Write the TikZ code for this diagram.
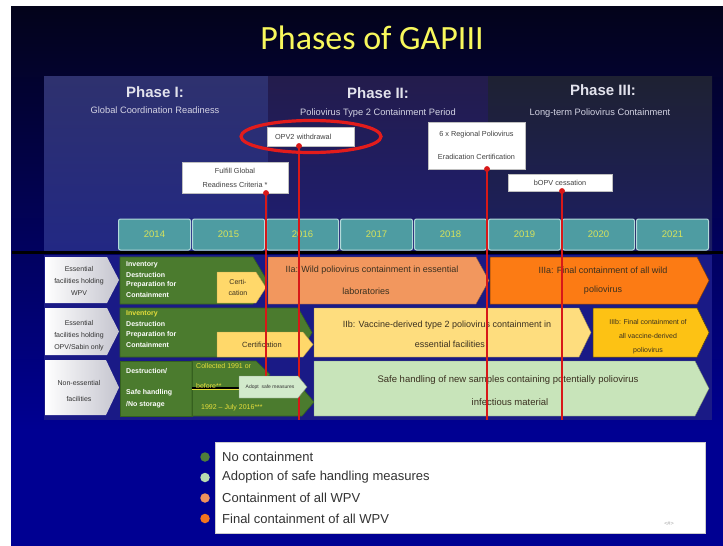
\documentclass[tikz,border=0pt]{standalone}
\usepackage{fontspec}
\setmainfont{Liberation Sans}
\newfontfamily\titlefont{Carlito}
\usetikzlibrary{calc}
\definecolor{bgtop}{HTML}{03031A}
\definecolor{bgmid}{HTML}{060652}
\definecolor{bgbot}{HTML}{000092}
\definecolor{ponetop}{HTML}{2E316E}
\definecolor{ponebot}{HTML}{222884}
\definecolor{ptwotop}{HTML}{231C4C}
\definecolor{ptwobot}{HTML}{1E1E74}
\definecolor{pthreetop}{HTML}{1E2132}
\definecolor{pthreebot}{HTML}{1C1E64}
\definecolor{phtext}{HTML}{E2E2EC}
\definecolor{pstext}{HTML}{D4D4E4}
\definecolor{yearfill}{HTML}{4E9CA2}
\definecolor{yearedge}{HTML}{B4DADA}
\definecolor{yeartext}{HTML}{D8E35A}
\definecolor{rowbg}{HTML}{1A1A86}
\definecolor{lblgray}{HTML}{C4C4CE}
\definecolor{grnfill}{HTML}{4B7B2E}
\definecolor{grnedge}{HTML}{35601F}
\definecolor{yelfill}{HTML}{FFD86A}
\definecolor{orlfill}{HTML}{F2975E}
\definecolor{ordfill}{HTML}{FC7B14}
\definecolor{yllfill}{HTML}{FEDD7E}
\definecolor{goldfill}{HTML}{FDC214}
\definecolor{lgrnfill}{HTML}{C8E4BA}
\definecolor{adoptfill}{HTML}{D2EACC}
\definecolor{dotred}{HTML}{D81818}
\definecolor{ellred}{HTML}{E21C1C}
\definecolor{txtdark}{HTML}{3A3020}
\definecolor{gtxtyel}{HTML}{E6DE3C}
\definecolor{bullone}{HTML}{4F7D3A}
\definecolor{bulltwo}{HTML}{B8DBB0}
\definecolor{bullthree}{HTML}{F0915C}
\definecolor{bullfour}{HTML}{F2741E}
\definecolor{titleyel}{HTML}{F8F85C}
\newcommand\fs[2]{\fontsize{#1}{#2}\selectfont}
\newcommand\pent[6]{\path[#6] (#1,#2) -- ({#3-#5},#2) -- (#3,{(#2+#4)/2}) -- ({#3-#5},#4) -- (#1,#4) -- cycle;}
\begin{document}
\begin{tikzpicture}[x=1pt,y=-1pt,
  phasehead/.style={text=phtext, font=\bfseries\fs{15}{17}, inner sep=0},
  phasesub/.style={text=pstext, font=\fs{9.3}{11}, inner sep=0},
  yearbox/.style={draw=yearedge, line width=1pt, fill=yearfill, rounded corners=2pt, minimum width=72pt, minimum height=31pt, inner sep=0, text=yeartext, font=\fs{9.5}{11}},
  callout/.style={draw=gray!50, line width=0.5pt, fill=white, inner sep=0, text=black!75, align=center, font=\fs{7.3}{14}},
  reddot/.style={circle, fill=dotred, inner sep=0, minimum size=5.5pt},
  redline/.style={draw=dotred, line width=1.6pt},
  lbl/.style={left color=white, right color=lblgray},
  lbltext/.style={text=black!80, font=\fs{7}{12}, align=center, inner sep=0},
  grn/.style={fill=grnfill, draw=grnedge, line width=0.6pt},
  yel/.style={fill=yelfill, draw=yelfill!70!black, line width=0.4pt},
  orl/.style={fill=orlfill, draw=orlfill!60!black, line width=0.4pt},
  ord/.style={fill=ordfill, draw=ordfill!50!black, line width=0.5pt},
  yll/.style={fill=yllfill, draw=yllfill!60!black, line width=0.4pt},
  gold/.style={fill=goldfill, draw=goldfill!40!black, line width=0.5pt},
  lgrn/.style={fill=lgrnfill, draw=lgrnfill!60!black, line width=0.4pt},
  adopt/.style={fill=adoptfill, draw=adoptfill!60!black, line width=0.4pt},
  gtxt/.style={text=white, font=\bfseries\fs{7}{9}, anchor=west, inner sep=0},
  ytxt/.style={text=gtxtyel, font=\fs{7}{9}, anchor=west, inner sep=0},
  boxtxt/.style={text=txtdark, font=\fs{9}{11}, inner sep=0},
  legtxt/.style={text=black!80, font=\fs{13}{15}, anchor=west, inner sep=0},
  bullet/.style={circle, inner sep=0, minimum size=9.5pt}
]
\useasboundingbox (0,0) rectangle (723,546);
\fill[white] (0,0) rectangle (723,546);
% slide background
\fill[bgbot] (11,6) rectangle (723,546);
\shade[top color=bgtop, middle color=bgmid, bottom color=bgbot] (11,6) rectangle (723,430);
% title
\node[text=titleyel, font=\titlefont\fs{34}{40}, inner sep=0] (title) at (372,38) {Phases of GAPIII};
% phase panels
\shade[top color=ponetop, bottom color=ponebot] (44,76) rectangle (268,252);
\shade[top color=ptwotop, bottom color=ptwobot] (268,76) rectangle (488,252);
\shade[top color=pthreetop, bottom color=pthreebot] (488,76) rectangle (712,252);
\node[phasehead] (ph1) at (155,92) {Phase I:};
\node[phasesub] (ps1) at (155,110) {Global Coordination Readiness};
\node[phasehead] (ph2) at (378,93) {Phase II:};
\node[phasesub] (ps2) at (378,113) {Poliovirus Type 2 Containment Period};
\node[phasehead] (ph3) at (603,90) {Phase III:};
\node[phasesub] (ps3) at (600,113) {Long-term Poliovirus Containment};
% year boxes
\foreach \yr [count=\i from 0] in {2014,2015,2016,2017,2018,2019,2020,2021}
  \node[yearbox] (y\yr) at ({154.5+74*\i},234.5) {\yr};
% callouts
\node[callout, minimum width=106pt, minimum height=31pt] (c1) at (235,177.5) {Fulfill Global\\Readiness Criteria *};
\node[callout, minimum width=87pt, minimum height=19pt, text width=71pt, align=left] (c2) at (310.5,136.5) {OPV2 withdrawal};
\node[callout, minimum width=97pt, minimum height=47pt, font=\fs{7.3}{23}] (c3) at (476.5,145.5) {6 x Regional Poliovirus\\Eradication Certification};
\node[callout, minimum width=104pt, minimum height=17pt] (c4) at (560,182.5) {bOPV cessation};
% divider
\draw[line width=2.2pt, black] (12,252.5) -- (723,252.5);
% rows background
\fill[rowbg] (44,254.5) rectangle (712,420);
% row labels
\pent{45}{257}{119}{303}{12}{lbl}
\pent{45}{308}{119}{355}{12}{lbl}
\pent{45}{360}{119}{415}{13}{lbl}
\node[lbltext] (l1) at (79,281) {Essential\\facilities holding\\WPV};
\node[lbltext] (l2) at (79,336) {Essential\\facilities holding\\OPV/Sabin only};
\node[lbltext, font=\fs{7}{16}] (l3) at (79,391) {Non-essential\\facilities};
% row 1
\pent{120}{257}{267}{304}{14}{grn}
\node[gtxt] (g1a) at (126,265) {Inventory};
\node[gtxt] (g1b) at (126,275) {Destruction};
\node[gtxt] (g1c) at (126,285) {Preparation for};
\node[gtxt] (g1d) at (126,295) {Containment};
\pent{217}{272}{266}{303}{10}{yel}
\node[text=txtdark, font=\fs{7}{11}, align=center, inner sep=0] (cert1) at (238,287.5) {Certi-\\cation};
\pent{268}{257}{489}{304}{13}{orl}
\node[boxtxt] (ia1) at (372,270) {IIa: Wild poliovirus containment in essential};
\node[boxtxt] (ia2) at (366,291) {laboratories};
\pent{490}{257}{709}{304}{12}{ord}
\node[boxtxt] (iiia1) at (603,270) {IIIa: Final containment of all wild};
\node[boxtxt] (iiia2) at (603,290) {poliovirus};
% row 2
\pent{120}{308}{312}{357}{14}{grn}
\node[gtxt, text=gtxtyel] (g2a) at (126,314) {Inventory};
\node[gtxt] (g2b) at (126,324) {Destruction};
\node[gtxt] (g2c) at (126,334.5) {Preparation for};
\node[gtxt] (g2d) at (126,345) {Containment};
\pent{217}{332}{313}{357}{10}{yel}
\node[text=txtdark, font=\fs{7.5}{9}, inner sep=0] (cert2) at (262,345) {Certification};
\pent{314}{308}{591}{357}{12}{yll}
\node[boxtxt] (iib1) at (447,325) {IIb: Vaccine-derived type 2 poliovirus containment in};
\node[boxtxt] (iib2) at (450,344) {essential facilities};
\pent{593}{308}{709}{357}{12}{gold}
\node[text=txtdark, font=\fs{7}{14}, align=center, inner sep=0] (iiib) at (648,337) {IIIb: Final containment of\\all vaccine-derived\\poliovirus};
% row 3
\path[grn] (120,361) rectangle (192,416);
\pent{192}{361}{270}{388}{14}{grn}
\pent{192}{388}{314}{416}{12}{grn}
\draw[grnedge, line width=0.8pt] (192,361) -- (192,416);
\draw[black, line width=1.4pt] (192,388) -- (240,388);
\draw[gtxtyel, line width=0.4pt] (192,389.2) -- (240,389.2);
\node[gtxt] (g3a) at (126,371) {Destruction/};
\node[gtxt] (g3b) at (126,393) {Safe handling};
\node[gtxt] (g3c) at (126,405) {/No storage};
\node[ytxt] (y3a) at (196,366) {Collected 1991 or};
\node[ytxt] (y3b) at (196,386) {before**};
\node[ytxt] (y3c) at (201,408) {1992 -- July 2016***};
\pent{314}{361}{709}{416}{14}{lgrn}
\node[boxtxt, font=\fs{9.5}{11}] (safe1) at (508,380) {Safe handling of new samples containing potentially poliovirus};
\node[boxtxt, font=\fs{9.5}{11}] (safe2) at (510,402) {infectious material};
% red milestone lines
\node[reddot] (d1) at (266,193) {};
\node[reddot] (d2) at (299,146) {};
\node[reddot] (d3) at (487,169) {};
\node[reddot] (d4) at (562,191) {};
\coordinate (e1) at (266,376);
\coordinate (e2) at (299,420);
\coordinate (e3) at (487,420);
\coordinate (e4) at (562,420);
\draw[redline] (d1.center) -- (e1);
\draw[redline] (d2.center) -- (e2);
\draw[redline] (d3.center) -- (e3);
\draw[redline] (d4.center) -- (e4);
\node[reddot] at (d1) {};
\node[reddot] at (d2) {};
\node[reddot] at (d3) {};
\node[reddot] at (d4) {};
% adopt safe measures
\pent{239}{376}{307}{398}{9}{adopt}
\node[text=black!80, font=\fs{5}{6}, inner sep=0] (adoptt) at (270,387) {Adopt\ \ safe measures};
% red ellipse
\draw[ellred, line width=3.2pt] (c2.center) ++(0.5,0) ellipse [x radius=70, y radius=16];
% legend
\node[draw=gray!40, fill=white, minimum width=490pt, minimum height=91pt, inner sep=0] (legend) at (460,487.5) {};
\node[bullet, fill=bullone] (b1) at (205,457) {};
\node[bullet, fill=bulltwo] (b2) at (205,477.5) {};
\node[bullet, fill=bullthree] (b3) at (205,498) {};
\node[bullet, fill=bullfour] (b4) at (205,518.5) {};
\node[legtxt] (t1) at (222,457) {No containment};
\node[legtxt] (t2) at (222,477.5) {Adoption of safe handling measures};
\node[legtxt] (t3) at (222,498) {Containment of all WPV};
\node[legtxt] (t4) at (222,518.5) {Final containment of all WPV};
\node[text=gray!70, font=\fs{5.5}{6}, inner sep=0] (pg) at (669,524) {<\#>};
\end{tikzpicture}
\end{document}
